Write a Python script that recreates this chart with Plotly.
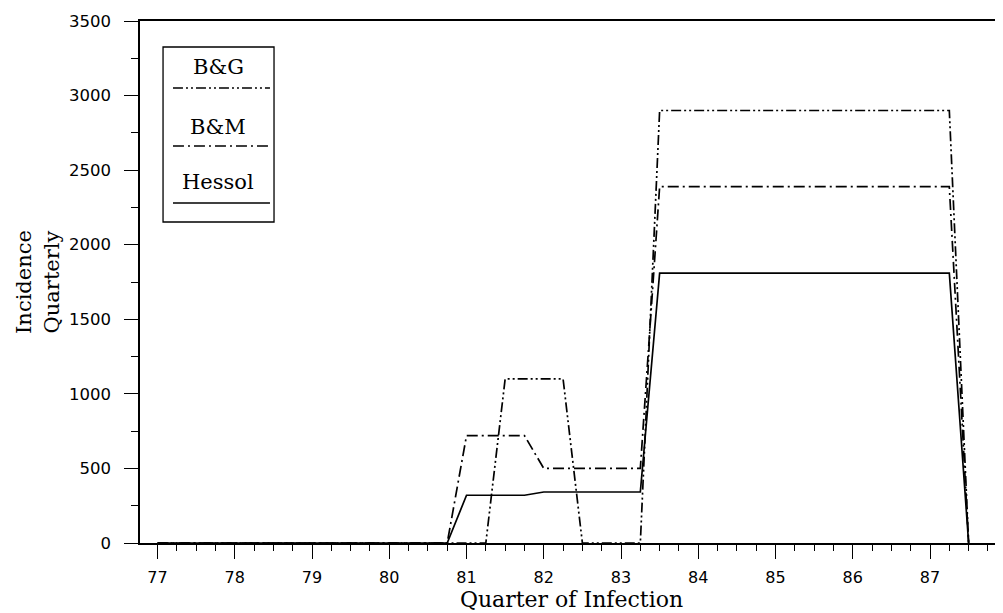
import plotly.graph_objects as go

# ---- data ----
quarters = [77.0, 77.25, 77.5, 77.75, 78.0, 78.25, 78.5, 78.75,
            79.0, 79.25, 79.5, 79.75, 80.0, 80.25, 80.5, 80.75,
            81.0, 81.25, 81.5, 81.75, 82.0, 82.25, 82.5, 82.75,
            83.0, 83.25, 83.5, 83.75, 84.0, 84.25, 84.5, 84.75,
            85.0, 85.25, 85.5, 85.75, 86.0, 86.25, 86.5, 86.75,
            87.0, 87.25, 87.5]

bg_values = [0, 0, 0, 0, 0, 0, 0, 0,
             0, 0, 0, 0, 0, 0, 0, 0,
             0, 0, 1100, 1100, 1100, 1100, 0, 0,
             0, 0, 2900, 2900, 2900, 2900, 2900, 2900,
             2900, 2900, 2900, 2900, 2900, 2900, 2900, 2900,
             2900, 2900, 0]

bm_values = [0, 0, 0, 0, 0, 0, 0, 0,
             0, 0, 0, 0, 0, 0, 0, 0,
             720, 720, 720, 720, 500, 500, 500, 500,
             500, 500, 2390, 2390, 2390, 2390, 2390, 2390,
             2390, 2390, 2390, 2390, 2390, 2390, 2390, 2390,
             2390, 2390, 0]

hessol_values = [0, 0, 0, 0, 0, 0, 0, 0,
                 0, 0, 0, 0, 0, 0, 0, 0,
                 320, 320, 320, 320, 342, 342, 342, 342,
                 342, 342, 1810, 1810, 1810, 1810, 1810, 1810,
                 1810, 1810, 1810, 1810, 1810, 1810, 1810, 1810,
                 1810, 1810, 0]

series_names = ["B&G", "B&M", "Hessol"]
x_tick_vals = [77, 78, 79, 80, 81, 82, 83, 84, 85, 86, 87]
y_tick_vals = [0, 500, 1000, 1500, 2000, 2500, 3000, 3500]

x_title = "Quarter of Infection"
y_title = "Incidence<br>Quarterly"

# ---- styling ----
dashes = {"B&G": "10px,3px,2px,3px,2px,3px",
          "B&M": "11px,4px,2px,4px",
          "Hessol": "solid"}
series_values = {"B&G": bg_values, "B&M": bm_values, "Hessol": hessol_values}

SERIF = "DejaVu Serif"
SANS = "DejaVu Sans"
INK = "black"

fig = go.Figure()
for name in series_names:
    fig.add_trace(go.Scatter(
        x=quarters, y=series_values[name], mode="lines", name=name,
        line=dict(color=INK, width=1.7, dash=dashes[name]),
        showlegend=False,
    ))

# ---- legend drawn as in the original: label above a line sample ----
shapes = [dict(type="rect", xref="paper", yref="paper",
               x0=0.0267, x1=0.1553, y0=0.6149, y1=0.9502,
               line=dict(color=INK, width=1.3), fillcolor="white", layer="above")]
annotations = []
label_y = [0.912, 0.797, 0.6916]
line_y = [0.8716, 0.7605, 0.6513]
for name, ty, ly in zip(series_names, label_y, line_y):
    annotations.append(dict(text=name, xref="paper", yref="paper", x=0.0904, y=ty,
                            xanchor="center", yanchor="middle", showarrow=False,
                            font=dict(family=SERIF, size=21, color=INK)))
    shapes.append(dict(type="line", xref="paper", yref="paper",
                       x0=0.0382, x1=0.1506, y0=ly, y1=ly, layer="above",
                       line=dict(color=INK, width=1.7, dash=dashes[name])))

# the page body adds an 8px offset, so the figure is sized to fit the window
fig.update_layout(
    width=995, height=605,
    margin=dict(l=132, r=0, t=13, b=70),
    paper_bgcolor="white", plot_bgcolor="white",
    shapes=shapes, annotations=annotations,
    xaxis=dict(
        range=[76.773, 87.945],
        tickmode="array", tickvals=x_tick_vals,
        ticks="outside", ticklen=14, tickwidth=1.4, tickcolor=INK,
        minor=dict(tickmode="linear", tick0=77, dtick=0.25, ticks="outside",
                   ticklen=6, tickwidth=1.2, tickcolor=INK, showgrid=False),
        showline=True, linewidth=1.5, linecolor=INK, mirror=True,
        showgrid=False, zeroline=False,
        tickfont=dict(family=SANS, size=16, color=INK),
        ticklabelstandoff=5,
        title=dict(text=x_title, font=dict(family=SERIF, size=22, color=INK), standoff=5),
    ),
    yaxis=dict(
        range=[0, 3500],
        tickmode="array", tickvals=y_tick_vals,
        ticks="outside", ticklen=14, tickwidth=1.4, tickcolor=INK,
        minor=dict(tickmode="linear", tick0=0, dtick=250, ticks="outside",
                   ticklen=7, tickwidth=1.2, tickcolor=INK, showgrid=False),
        showline=True, linewidth=1.5, linecolor=INK,
        showgrid=False, zeroline=False,
        tickfont=dict(family=SANS, size=16.5, color=INK),
        ticklabelstandoff=10,
        title=dict(text=y_title, font=dict(family=SERIF, size=21, color=INK), standoff=4),
    ),
)

fig.write_html("out.html")
